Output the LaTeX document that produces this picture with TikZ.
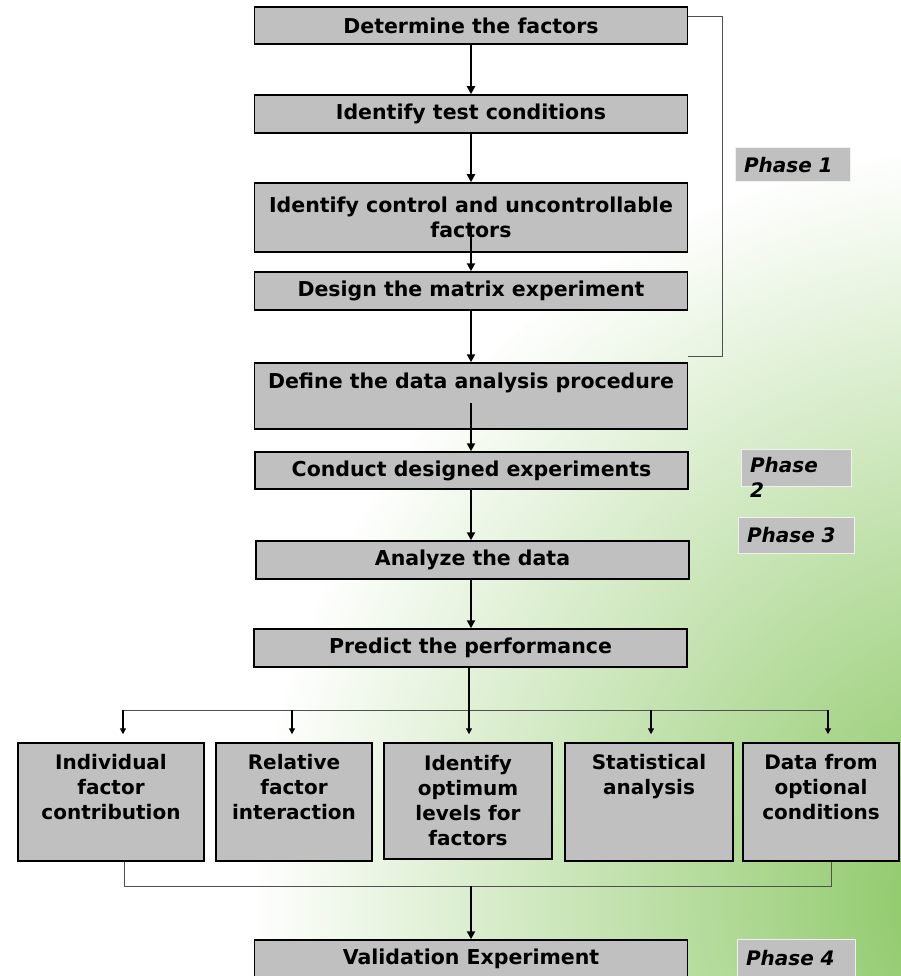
\documentclass[tikz,border=0pt]{standalone}
\usepackage{fontspec}
\setmainfont{DejaVu Sans}
\usetikzlibrary{arrows.meta,calc}
\definecolor{boxgray}{HTML}{C0C0C0}
\definecolor{bggreen}{RGB}{130,195,88}
\definecolor{linegray}{HTML}{505050}
\begin{document}
\begin{tikzpicture}[x=1pt,y=-1pt,
  mainbox/.style={draw=black, fill=boxgray, line width=1.5pt, minimum width=433pt, inner sep=0pt, align=center,
    font=\bfseries\fontsize{20.5}{25}\selectfont},
  subbox/.style={draw=black, fill=boxgray, line width=1.5pt, inner sep=0pt,
    font=\bfseries\fontsize{20}{25}\selectfont},
  phasebox/.style={draw=white!88!gray, fill=boxgray, line width=1pt, inner xsep=9pt, inner ysep=0pt, align=left,
    font=\bfseries\itshape\fontsize{20}{25}\selectfont},
  mainarrow/.style={draw=black, line width=2.2pt, -{Triangle[length=8pt,width=8pt]}},
  smallarrow/.style={draw=black, line width=1.2pt, -{Triangle[length=6pt,width=6pt]}, shorten >=8pt},
  branch/.style={draw=linegray, line width=1pt}
]
\useasboundingbox (0,0) rectangle (901,976);
\fill[white] (0,0) rectangle (901,976);
\begin{scope}
  \clip (0,0) rectangle (901,976);
  \shade[inner color=bggreen, outer color=white] (1010,900) circle (760);
\end{scope}

% main column
\node[mainbox, minimum height=37pt] (b1) at (471,25.5) {Determine the factors};
\node[mainbox, minimum height=38pt] (b2) at (471,114) {Identify test conditions};
\node[mainbox, minimum height=69pt] (b3) at (471,217.5) {Identify control and uncontrollable\\factors};
\node[mainbox, minimum height=38pt] (b4) at (471,291) {Design the matrix experiment};
\node[mainbox] (b5) at (471,396) {\parbox[c][66pt][t]{433pt}{\centering\vspace{10pt}Define the data analysis procedure}};
\node[mainbox, minimum height=37pt] (b6) at (471.5,470.5) {Conduct designed experiments};
\node[mainbox, minimum height=38pt] (b7) at (472.5,560) {Analyze the data};
\node[mainbox, minimum height=38pt] (b8) at (470.5,648) {Predict the performance};
\node[mainbox, minimum height=38pt] (b9) at (471,959) {Validation Experiment};

% phase labels
\node[phasebox, text width=97pt, minimum height=34pt] (p1) at (792.5,165) {Phase 1};
\node[phasebox, inner xsep=0pt] (p2) at (796,467.5) {\parbox[c][37pt][t]{110pt}{\vspace{8pt}\hspace*{9pt}Phase\\\hspace*{9pt}2}};
\node[phasebox, text width=98pt, minimum height=36pt] (p3) at (796,535) {Phase 3};
\node[phasebox, text width=100pt, minimum height=38pt] (p4) at (796,958) {Phase 4};

% branch boxes
\node[subbox] (c1) at (111,802) {\parbox[c][118pt][t]{186pt}{\centering\vspace{11pt}Individual\\factor\\contribution}};
\node[subbox] (c2) at (294,802) {\parbox[c][118pt][t]{156pt}{\centering\vspace{11pt}Relative\\factor\\interaction}};
\node[subbox] (c3) at (468,801) {\parbox[c][116pt][t]{168pt}{\centering\vspace{12pt}Identify\\optimum\\levels for\\factors}};
\node[subbox] (c4) at (649,802) {\parbox[c][118pt][t]{168pt}{\centering\vspace{11pt}Statistical\\analysis}};
\node[subbox] (c5) at (821,802) {\parbox[c][118pt][t]{156pt}{\centering\vspace{11pt}Data from\\optional\\conditions}};

% main arrows
\draw[mainarrow] (b1) -- (b2);
\draw[mainarrow] (b2) -- (b3);
\draw[mainarrow] ($(b3.south)+(0,-27)$) -- (b4.north);
\draw[mainarrow] (b4) -- (b5);
\draw[mainarrow] ($(b5.south)+(0,-27)$) -- (b5.south |- b6.north);
\draw[mainarrow] (b6.south -| b5.south) -- (b5.south |- b7.north);
\draw[mainarrow] (b7.south -| b5.south) -- (b5.south |- b8.north);

% phase 1 bracket
\coordinate (br1) at ($(b1.east)+(0,-8.5)$);
\coordinate (br2) at ($(b5.east)+(0,-40)$);
\draw[branch] (br1) -- ++(34,0) |- (br2);

% fan out
\coordinate (j0) at (469,710);
\coordinate (j1) at (123,710);
\coordinate (j2) at (292,710);
\coordinate (j3) at (469,710);
\coordinate (j4) at (651,710);
\coordinate (j5) at (828,710);
\draw[black, line width=1.8pt] (b8.south -| j0) -- (j0);
\draw[branch] (j1) -- (j5);
\foreach \i in {1,...,5} {\draw[smallarrow] (j\i) -- (j\i |- c\i.north);}

% fan in
\coordinate (k1) at (124,886);
\coordinate (k5) at (831,886);
\coordinate (k0) at (471,886);
\draw[branch] (k1 |- c1.south) -- (k1) -- (k5) -- (k5 |- c5.south);
\draw[mainarrow] (k0) -- (b9.north);
\end{tikzpicture}
\end{document}
